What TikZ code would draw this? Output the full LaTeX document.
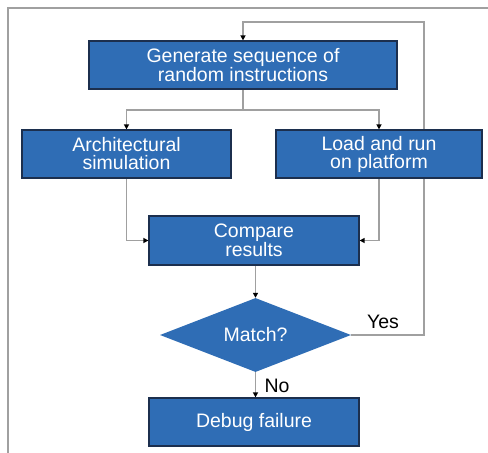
\documentclass[tikz,border=0pt]{standalone}
\usepackage{fontspec}
\setmainfont{Liberation Sans}
\usetikzlibrary{shapes.geometric,arrows.meta,backgrounds}
\definecolor{boxblue}{HTML}{2F6DB5}
\definecolor{boxedge}{HTML}{1C2F4E}
\definecolor{linegray}{HTML}{A0A0A0}
\begin{document}
\begin{tikzpicture}[x=1pt,y=-1pt,
  proc/.style={draw=boxedge,line width=1.2pt,fill=boxblue,text=white,
    font=\fontsize{19.5}{18}\selectfont,align=center,inner sep=0pt},
  dec/.style={diamond,draw=none,fill=boxblue,text=white,
    font=\fontsize{19.5}{18}\selectfont,inner sep=0pt,aspect=2.58},
  conn/.style={draw=linegray,line width=1.3pt},
  tip/.style={-{Triangle[length=5pt,width=5pt,fill=black,color=black]}},
  lbl/.style={font=\fontsize{19.5}{18}\selectfont,text=black}]
\useasboundingbox (0,0) rectangle (488,453);

\node[proc,minimum width=308pt,minimum height=48pt] (gen) at (243,65) {Generate sequence of\\random instructions};
\node[proc,minimum width=209pt,minimum height=48pt] (arch) at (126.5,154) {Architectural\\simulation};
\node[proc,minimum width=206pt,minimum height=48pt] (load) at (379,154) {Load and run\\on platform};
\node[proc,minimum width=210pt,minimum height=49pt] (cmp) at (254,240.5) {Compare\\results};
\node[dec,minimum width=191pt,minimum height=74pt] (match) at (255.5,335) {Match?};
\node[proc,minimum width=210pt,minimum height=48pt] (dbg) at (254,422) {Debug failure};

\coordinate (split) at (243,110);
\coordinate (ret) at (424,22);

\begin{scope}[on background layer]
\fill[white] (0,0) rectangle (488,453);
\draw[linegray,line width=1.5pt] (8,453) -- (8,8) -- (488,8);
\draw[conn] (gen.south) -- (split);
\draw[conn,tip] (split) -| (arch.north);
\draw[conn,tip] (split) -| (load.north);
\draw[conn,tip] (arch.south) |- (cmp.west);
\draw[conn,tip] (load.south) |- (cmp.east);
\draw[conn,tip] (cmp.south -| match.north) -- (match.north);
\draw[conn,tip] (match.east) -| (ret) -| (gen.north);
\draw[conn,tip] (match.south) -- (dbg.north -| match.south);
\end{scope}

\node[lbl] (yes) at (383,322) {Yes};
\node[lbl] (no) at (277,386) {No};
\end{tikzpicture}
\end{document}
